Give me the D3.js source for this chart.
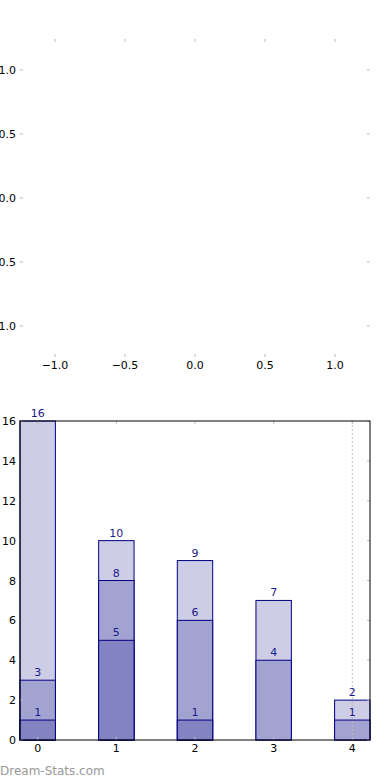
<!DOCTYPE html>
<html>
<head>
<meta charset="utf-8">
<script src="https://cdn.jsdelivr.net/npm/d3@7"></script>
<style>
  body { margin: 0; background: #fff; }
  svg text { font-family: "DejaVu Sans", sans-serif; }
</style>
</head>
<body>
<div id="chart"></div>
<script>
// data
var categories = [0, 1, 2, 3, 4];
var lightTotals = [16, 10, 9, 7, 2];
var mediumTotals = [3, 8, 6, 4, 1];
var darkTotals = [1, 5, 1, null, null];
var yTicks = [0, 2, 4, 6, 8, 10, 12, 14, 16];
var emptyTicks = [-1.0, -0.5, 0.0, 0.5, 1.0];
var dottedAt = 4;

var svg = d3.select("#chart")
    .append("svg")
    .attr("width", 390)
    .attr("height", 780);

var tickColor = "#bbbbbb",
    tickLen = 3,
    fontSize = 11;

////////// top (empty) panel //////////

var upper = {left: 20, right: 370, top: 39, bottom: 357};

var xTop = d3.scaleLinear().domain([-1.25, 1.25]).range([upper.left, upper.right]);
var yTop = d3.scaleLinear().domain([-1.242, 1.242]).range([upper.bottom, upper.top]);

var gTop = svg.append("g");

function fmt(v) {
    return d3.format(".1f")(v).replace("-", "\u2212");
}

emptyTicks.forEach(function (t) {
    // top + bottom ticks
    gTop.append("line").attr("x1", xTop(t)).attr("x2", xTop(t))
        .attr("y1", upper.top).attr("y2", upper.top + tickLen)
        .attr("stroke", tickColor);
    gTop.append("line").attr("x1", xTop(t)).attr("x2", xTop(t))
        .attr("y1", upper.bottom).attr("y2", upper.bottom - tickLen)
        .attr("stroke", tickColor);
    // left + right ticks
    gTop.append("line").attr("x1", upper.left).attr("x2", upper.left + tickLen)
        .attr("y1", yTop(t)).attr("y2", yTop(t))
        .attr("stroke", tickColor);
    gTop.append("line").attr("x1", upper.right).attr("x2", upper.right - tickLen)
        .attr("y1", yTop(t)).attr("y2", yTop(t))
        .attr("stroke", tickColor);

    gTop.append("text")
        .attr("x", xTop(t))
        .attr("y", upper.bottom + 12)
        .attr("text-anchor", "middle")
        .attr("font-size", fontSize)
        .text(fmt(t));
    gTop.append("text")
        .attr("x", upper.left - 4)
        .attr("y", yTop(t) + 4)
        .attr("text-anchor", "end")
        .attr("font-size", fontSize)
        .text(fmt(t));
});

////////// bottom bar panel //////////

var bot = {left: 20, right: 370, top: 421, bottom: 740};

var x = d3.scaleLinear().domain([-0.225, 4.225]).range([bot.left, bot.right]);
var y = d3.scaleLinear().domain([0, 16]).range([bot.bottom, bot.top]);
var barW = 0.45;

var gBot = svg.append("g");

var layers = [
    {values: lightTotals, fill: "#cdcde6"},
    {values: mediumTotals, fill: "#a3a3d1"},
    {values: darkTotals, fill: "#8383c1"}
];

layers.forEach(function (layer) {
    var data = categories.map(function (c, i) {
        return {c: c, v: layer.values[i]};
    }).filter(function (d) { return d.v != null; });

    gBot.selectAll(null)
        .data(data)
        .enter()
        .append("rect")
        .attr("x", function (d) { return x(d.c - barW / 2); })
        .attr("y", function (d) { return y(d.v); })
        .attr("width", function (d) { return x(d.c + barW / 2) - x(d.c - barW / 2); })
        .attr("height", function (d) { return y(0) - y(d.v); })
        .attr("fill", layer.fill)
        .attr("stroke", "#000080")
        .attr("stroke-width", 1);
});

// dotted reference line
gBot.append("line")
    .attr("x1", x(dottedAt)).attr("x2", x(dottedAt))
    .attr("y1", bot.top).attr("y2", bot.bottom)
    .attr("stroke", "#bbbbbb")
    .attr("stroke-dasharray", "2,2");

layers.forEach(function (layer) {
    categories.forEach(function (c, i) {
        var v = layer.values[i];
        if (v == null) return;
        gBot.append("text")
            .attr("x", x(c))
            .attr("y", y(v) - 4)
            .attr("text-anchor", "middle")
            .attr("font-size", fontSize)
            .attr("fill", "#1a1a8c")
            .text(v);
    });
});

// ticks
categories.forEach(function (c) {
    gBot.append("line").attr("x1", x(c)).attr("x2", x(c))
        .attr("y1", bot.top).attr("y2", bot.top + tickLen)
        .attr("stroke", tickColor);
    gBot.append("line").attr("x1", x(c)).attr("x2", x(c))
        .attr("y1", bot.bottom).attr("y2", bot.bottom - tickLen)
        .attr("stroke", tickColor);
    gBot.append("text")
        .attr("x", x(c))
        .attr("y", bot.bottom + 12)
        .attr("text-anchor", "middle")
        .attr("font-size", fontSize)
        .text(c);
});

yTicks.forEach(function (t) {
    gBot.append("line").attr("x1", bot.left).attr("x2", bot.left + tickLen)
        .attr("y1", y(t)).attr("y2", y(t))
        .attr("stroke", tickColor);
    gBot.append("line").attr("x1", bot.right).attr("x2", bot.right - tickLen)
        .attr("y1", y(t)).attr("y2", y(t))
        .attr("stroke", tickColor);
    gBot.append("text")
        .attr("x", bot.left - 4)
        .attr("y", y(t) + 4)
        .attr("text-anchor", "end")
        .attr("font-size", fontSize)
        .text(t);
});

// frame
gBot.append("rect")
    .attr("x", bot.left)
    .attr("y", bot.top)
    .attr("width", bot.right - bot.left)
    .attr("height", bot.bottom - bot.top)
    .attr("fill", "none")
    .attr("stroke", "#000")
    .attr("stroke-width", 1);

// watermark
svg.append("text")
    .attr("x", 0)
    .attr("y", 775)
    .attr("font-size", 12)
    .attr("fill", "#999999")
    .text("Dream-Stats.com");
</script>
</body>
</html>
